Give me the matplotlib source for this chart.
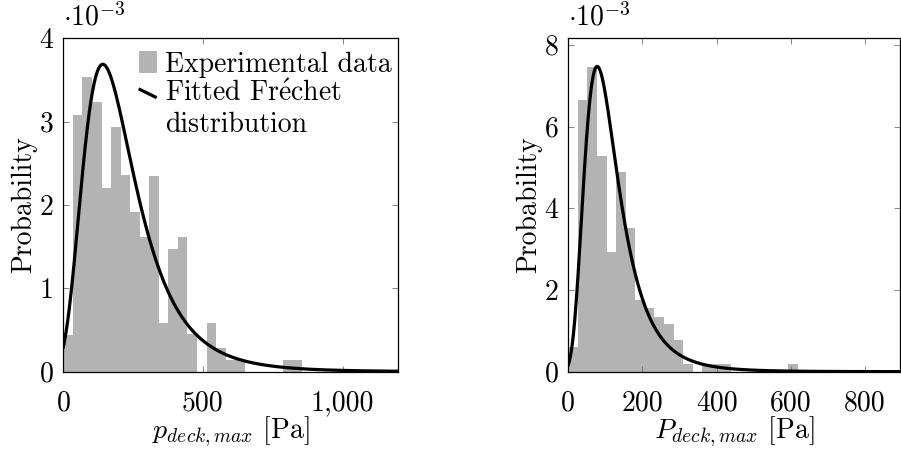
import numpy as np
import matplotlib
matplotlib.use('Agg')
import matplotlib.pyplot as plt
from matplotlib.legend_handler import HandlerBase
from matplotlib.lines import Line2D

plt.rcParams.update({
    'font.family': ['cmr10', 'DejaVu Serif'],
    'mathtext.fontset': 'cm',
    'axes.formatter.use_mathtext': True,
    'font.size': 20,
    'axes.linewidth': 0.9,
})

# left panel: p_deck,max, histogram density in units of 1e-3
p_bin_start = 0.0
p_bin_width = 34.2
p_density = [0.44, 3.08, 3.53, 3.23, 2.20, 2.94, 2.36, 1.92, 1.61, 2.35,
             0.59, 1.47, 1.62, 0.45, 0.0, 0.59, 0.29, 0.14, 0.14, 0.0,
             0.0, 0.0, 0.0, 0.14, 0.14]
p_shape, p_scale, p_loc = 8.0, 804.0, -651.0
p_xticks = [0, 500, 1000]
p_xticklabels = ['0', '500', '1,000']
p_yticks = [0, 1, 2, 3, 4]

# right panel: P_deck,max
P_bin_start = 0.0
P_bin_width = 25.8
P_density = [0.60, 6.66, 7.45, 5.29, 2.94, 4.89, 3.52, 1.76, 1.55, 1.35,
             1.17, 0.78, 0.19, 0.0, 0.19, 0.19, 0.19, 0.0, 0.0, 0.0,
             0.0, 0.0, 0.0, 0.19]
P_shape, P_scale, P_loc = 7.0, 348.0, -263.4
P_xticks = [0, 200, 400, 600, 800]
P_xticklabels = ['0', '200', '400', '600', '800']
P_yticks = [0, 2, 4, 6, 8]

bar_color = '#b3b3b3'
fs = 20


def frechet_pdf(x, shape, scale, loc):
    z = (x - loc) / scale
    return shape / scale * z ** (-1 - shape) * np.exp(-z ** (-shape))


class SlopedLine(HandlerBase):
    def create_artists(self, legend, orig_handle, xdescent, ydescent,
                       width, height, fontsize, trans):
        x0, y0 = -xdescent, -ydescent
        dy = 0.55 * fontsize
        line = Line2D([x0, x0 + width], [y0 + 0.75 * height + dy, y0 + 0.35 * height + dy],
                      color='black', lw=2.3, solid_capstyle='butt')
        line.set_transform(trans)
        return [line]


def draw_panel(ax, start, width, density, shape, scale, loc, xmax, ymax,
               xticks, xticklabels, yticks, xlabel):
    edges = start + width * np.arange(len(density))
    bars = ax.bar(edges, density, width=width, align='edge', color=bar_color,
                  linewidth=0)
    x = np.linspace(0, xmax, 600)
    line, = ax.plot(x, frechet_pdf(x, shape, scale, loc) * 1e3, color='black', lw=2.3)
    ax.set_xlim(0, xmax)
    ax.set_ylim(0, ymax)
    ax.set_xticks(xticks)
    ax.set_xticklabels(xticklabels)
    ax.set_yticks(yticks)
    ax.set_yticklabels([str(t) for t in yticks])
    ax.tick_params(direction='in', length=4, width=0.6, color='0.45',
                   top=True, right=True, labelsize=fs)
    ax.tick_params(axis='x', pad=13)
    ax.tick_params(axis='y', pad=7)
    ax.set_ylabel('Probability', fontsize=fs, labelpad=2)
    ax.set_xlabel(xlabel, fontsize=fs, labelpad=-1)
    ax.text(0.0, 1.02, r'$\cdot 10^{-3}$', transform=ax.transAxes,
            ha='left', va='bottom', fontsize=fs)
    return bars, line


fig = plt.figure(figsize=(9.01, 4.53), dpi=100)
ax1 = fig.add_axes([0.0703, 0.1795, 0.3718, 0.7360])
ax2 = fig.add_axes([0.6307, 0.1795, 0.3682, 0.7360])

bars, line = draw_panel(ax1, p_bin_start, p_bin_width, p_density, p_shape, p_scale, p_loc,
                        1200, 4.0, p_xticks, p_xticklabels, p_yticks,
                        r'$p_{deck,max}$ [Pa]')
draw_panel(ax2, P_bin_start, P_bin_width, P_density, P_shape, P_scale, P_loc,
           894, 8.16, P_xticks, P_xticklabels, P_yticks,
           r'$P_{deck,max}$ [Pa]')

ax1.legend([bars, line], ['Experimental data', 'Fitted Fr$\\acute{\\mathrm{e}}$chet\ndistribution'],
           loc='upper left', bbox_to_anchor=(0.175, 1.012), frameon=False,
           fontsize=fs, handlelength=0.65, handleheight=0.85, handletextpad=0.3,
           labelspacing=0.1, borderaxespad=0.2,
           handler_map={Line2D: SlopedLine()})

fig.savefig('out.png', dpi=100)
